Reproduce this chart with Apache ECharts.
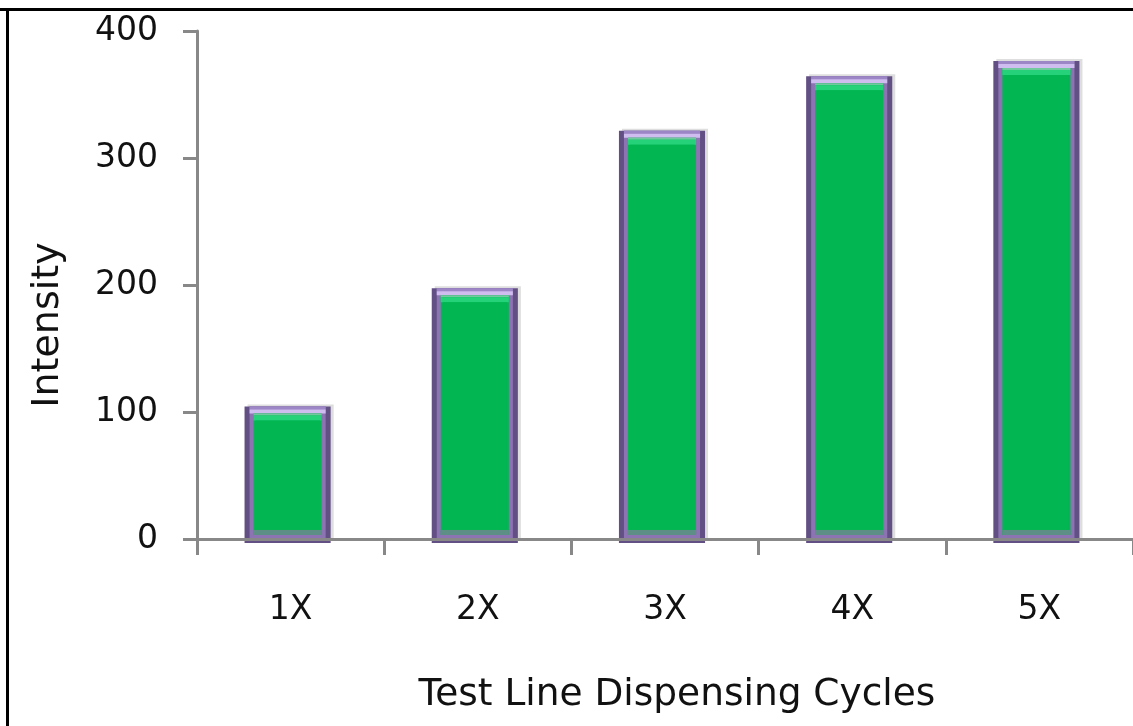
<!DOCTYPE html>
<html>
<head>
<meta charset="utf-8">
<script src="https://cdn.jsdelivr.net/npm/echarts@6/dist/echarts.min.js"></script>
<style>
html,body{margin:0;padding:0;background:#fff;}
#chart{width:1133px;height:726px;}
</style>
</head>
<body>
<div id="chart"></div>
<script>
const categories = ['1X', '2X', '3X', '4X', '5X'];
const intensity = [106, 199, 323, 366, 378];
const yTicks = [0, 100, 200, 300, 400];
const xTitle = 'Test Line Dispensing Cycles';
const yTitle = 'Intensity';

const FONT = '"DejaVu Sans"';
const chart = echarts.init(document.getElementById('chart'));

function renderItem(params, api) {
  const idx = api.value(0);
  const v = api.value(1);
  const top = api.coord([idx, v]);
  const base = api.coord([idx, 0]);
  const cw = api.size([1, 0])[0];
  const w = cw * 0.46;
  const x0 = top[0] - w / 2 - 3;
  const y0 = top[1];
  const y1 = base[1] + 4;
  const h = y1 - y0;
  const r = (x, y, ww, hh, fill) => ({ type: 'rect', shape: { x: x, y: y, width: ww, height: hh }, style: { fill: fill } });
  return {
    type: 'group',
    children: [
      r(x0 + 3, y0, w, h - 3, '#dedede'),
      r(x0, y0 + 2, w, h - 2, '#624f84'),
      r(x0 + 5, y0 + 2, w - 10, h - 6, '#8c74b2'),
      r(x0 + 5, y0 + 2, w - 10, 3, '#9d86c5'),
      r(x0 + 5, y0 + 5, w - 10, 4, '#d0bdf0'),
      r(x0 + 9, y0 + 9, w - 18, h - 17, '#05b553'),
      r(x0 + 9, y0 + 9, w - 18, 2, '#72c9a0'),
      r(x0 + 9, y0 + 11, w - 18, 5, '#25d27a'),
      r(x0 + 11, y0 + 16, w - 22, h - 30, '#02b752'),
      r(x0 + 9, y1 - 13, w - 18, 5, '#5e8f86')
    ]
  };
}

const option = {
  animation: false,
  backgroundColor: '#ffffff',
  grid: { left: 197, top: 31, right: -1, bottom: 187 },
  xAxis: {
    type: 'category',
    data: categories,
    z: 5,
    axisLine: { show: true, lineStyle: { color: '#888888', width: 3 } },
    axisTick: { show: true, length: 16, lineStyle: { color: '#888888', width: 3 } },
    axisLabel: { color: '#111111', fontFamily: FONT, fontSize: 33, margin: 55 },
    name: xTitle,
    nameLocation: 'middle',
    nameGap: 137,
    nameTextStyle: { color: '#111111', fontFamily: FONT, fontSize: 37.5, padding: [0, 0, 0, 24] }
  },
  yAxis: {
    type: 'value',
    min: yTicks[0],
    max: yTicks[yTicks.length - 1],
    interval: 100,
    z: 5,
    splitLine: { show: false },
    axisLine: { show: true, lineStyle: { color: '#888888', width: 3 } },
    axisTick: { show: true, length: 14, lineStyle: { color: '#888888', width: 3 } },
    axisLabel: { color: '#111111', fontFamily: FONT, fontSize: 33, margin: 39, padding: [6, 0, 0, 0] },
    name: yTitle,
    nameLocation: 'middle',
    nameGap: 130,
    nameTextStyle: { color: '#111111', fontFamily: FONT, fontSize: 38, padding: [0, 80, 0, 0] }
  },
  series: [{
    type: 'custom',
    renderItem: renderItem,
    encode: { x: 0, y: 1 },
    data: categories.map((c, i) => [i, intensity[i]])
  }],
  graphic: [
    { type: 'rect', shape: { x: 0, y: 8, width: 1133, height: 3 }, style: { fill: '#000000' } },
    { type: 'rect', shape: { x: 6, y: 8, width: 3, height: 718 }, style: { fill: '#000000' } }
  ]
};
chart.setOption(option);
</script>
</body>
</html>
